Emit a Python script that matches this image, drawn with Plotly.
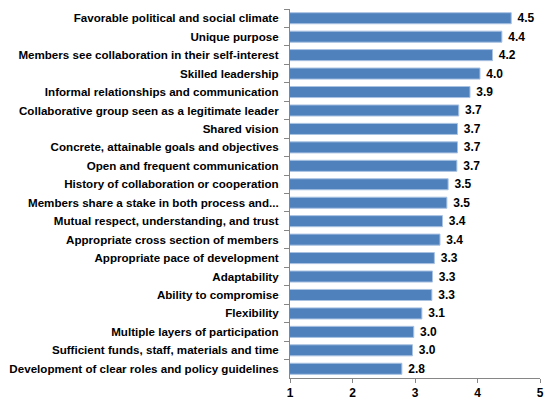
import plotly.graph_objects as go

categories = [
    "Favorable political and social climate",
    "Unique purpose",
    "Members see collaboration in their self-interest",
    "Skilled leadership",
    "Informal relationships and communication",
    "Collaborative group seen as a legitimate leader",
    "Shared vision",
    "Concrete, attainable goals and objectives",
    "Open and frequent communication",
    "History of collaboration or cooperation",
    "Members share a stake in both process and...",
    "Mutual respect, understanding, and trust",
    "Appropriate cross section of members",
    "Appropriate pace of development",
    "Adaptability",
    "Ability to compromise",
    "Flexibility",
    "Multiple layers of participation",
    "Sufficient funds, staff, materials and time",
    "Development of clear roles and policy guidelines",
]
values = [4.54, 4.39, 4.24, 4.04, 3.88, 3.70, 3.68, 3.68, 3.67, 3.53,
          3.51, 3.44, 3.40, 3.31, 3.28, 3.27, 3.11, 2.98, 2.96, 2.79]
x_ticks = [1, 2, 3, 4, 5]

fig = go.Figure(go.Bar(
    y=categories,
    x=values,
    orientation="h",
    marker=dict(color="#4F81BD", line=dict(color="#A9C2E2", width=1)),
    texttemplate="\u00a0%{x:.1f}",
    textposition="outside",
    constraintext="none",
    cliponaxis=False,
    textfont=dict(family="Liberation Sans", size=12, color="#000000", weight="bold"),
    hoverinfo="skip",
))

fig.update_layout(
    width=546, height=401,
    margin=dict(l=290, r=6, t=9, b=23, autoexpand=False),
    paper_bgcolor="white", plot_bgcolor="white",
    bargap=0.4,
    showlegend=False,
    uniformtext=dict(mode=False),
    font=dict(family="Liberation Sans", size=12, color="#000000"),
)
fig.update_xaxes(
    range=[1, 5], tickvals=x_ticks, ticktext=[str(t) for t in x_ticks],
    showgrid=False, zeroline=False, automargin=False,
    showline=True, linecolor="#868686", linewidth=1,
    ticks="outside", ticklen=4, tickcolor="#868686",
    tickfont=dict(family="Liberation Sans", size=12, weight="bold"),
)
fig.update_yaxes(
    autorange="reversed", showgrid=False, zeroline=False, automargin=False,
    showline=True, linecolor="#868686", linewidth=1,
    ticks="outside", ticklen=5, tickcolor="#868686", tickson="boundaries",
    tickfont=dict(family="Liberation Sans", size=11.6, weight="bold"),
    ticklabelstandoff=8,
)

fig.write_html(
    "out.html",
    config={"displayModeBar": False, "staticPlot": True},
    post_script="document.body.style.margin='0px';document.body.style.overflow='hidden';",
)
